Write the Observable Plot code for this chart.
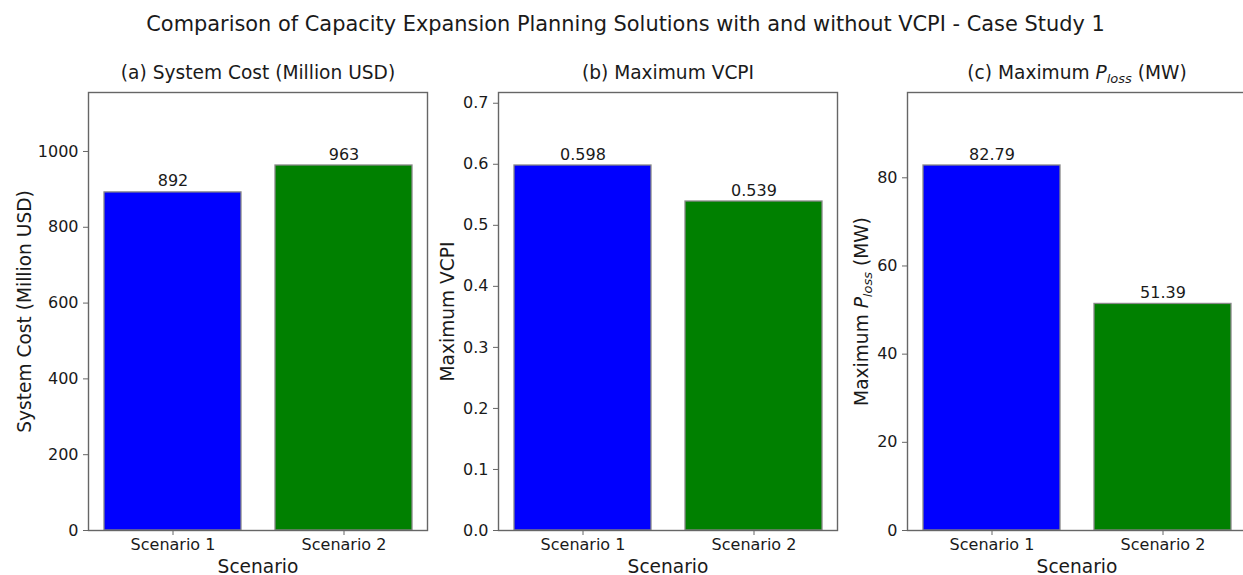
<!DOCTYPE html>
<html>
<head>
<meta charset="utf-8">
<script src="https://cdn.jsdelivr.net/npm/d3@7"></script>
<script src="https://cdn.jsdelivr.net/npm/@observablehq/plot@0.6"></script>
<style>
  html, body { margin: 0; padding: 0; background: #fff; overflow: hidden; width: 1243px; height: 575px; }
  #title { font-family: "DejaVu Sans", sans-serif; font-size: 20.9px; line-height: 22px; height: 27px; padding-top: 13px; text-align: center; color: #1a1a1a; width: 1243px; padding-left: 4px; box-sizing: content-box; }
  #row { display: flex; flex-wrap: nowrap; width: 1300px; }
  #row svg { flex: none; }
</style>
</head>
<body>
<div id="title">Comparison of Capacity Expansion Planning Solutions with and without VCPI - Case Study 1</div>
<div id="row"></div>
<script>
// ---- data ----
const scenarios = ["Scenario 1", "Scenario 2"];
const barColors = ["blue", "green"];
const systemCost = [892, 963];
const maxVCPI = [0.598, 0.539];
const maxPloss = [82.79, 51.39];
const costTicks = [0, 200, 400, 600, 800, 1000];
const vcpiTicks = [0, 0.1, 0.2, 0.3, 0.4, 0.5, 0.6, 0.7];
const plossTicks = [0, 20, 40, 60, 80];
const panelTitles = ["(a) System Cost (Million USD)", "(b) Maximum VCPI", "(c) Maximum P_loss (MW)"];
const yLabels = ["System Cost (Million USD)", "Maximum VCPI", "Maximum P_loss (MW)"];
const xLabel = "Scenario";

const FONT = "DejaVu Sans, sans-serif";
const TXT = "#1a1a1a";
const AX = "#666";
const TICKFS = 16;
const LABFS = 18.6;

function panel({values, ticks, tickFormat, labelFormat, title, ylabel, width, marginLeft, marginRight, ylabelDx}) {
  const data = scenarios.map((s, i) => ({scenario: s, value: values[i], color: barColors[i]}));
  const ymax = d3.max(values) * 1.2;
  return Plot.plot({
    width, height: 535,
    marginLeft, marginRight, marginTop: 52, marginBottom: 45,
    style: {fontFamily: FONT, color: TXT, background: "#fff", overflow: "visible"},
    x: {type: "band", domain: scenarios, paddingInner: 0.2, paddingOuter: 0.09, align: 0.5},
    y: {domain: [0, ymax], nice: false},
    marks: [
      Plot.barY(data, {x: "scenario", y: "value", fill: "color", stroke: "#888", strokeWidth: 1.3}),
      Plot.text(data, {x: "scenario", y: "value", text: d => labelFormat(d.value), lineAnchor: "bottom", dy: -6, fontSize: TICKFS, fill: TXT}),
      Plot.frame({stroke: AX, strokeWidth: 1.4}),
      Plot.axisX({tickSize: 5, tickPadding: 3, fontSize: TICKFS, stroke: AX, color: TXT, label: null}),
      Plot.axisY({ticks, tickFormat, tickSize: 5, tickPadding: 5, fontSize: TICKFS, stroke: AX, color: TXT, label: null}),
      Plot.text([title], {frameAnchor: "top", lineAnchor: "bottom", textAnchor: "middle", dy: -14, fontSize: LABFS, fill: TXT}),
      Plot.text([xLabel], {frameAnchor: "bottom", lineAnchor: "bottom", textAnchor: "middle", dy: 42, fontSize: LABFS, fill: TXT}),
      Plot.text([ylabel], {frameAnchor: "left", rotate: -90, lineAnchor: "bottom", textAnchor: "middle", dx: ylabelDx, fontSize: LABFS, fill: TXT})
    ]
  });
}

function richify(svg) {
  d3.select(svg).selectAll("text").each(function() {
    const t = this.textContent;
    if (this.childElementCount === 0 && t.includes("P_loss")) {
      const [pre, post] = t.split("P_loss");
      const sel = d3.select(this);
      sel.text(null);
      sel.append("tspan").text(pre);
      sel.append("tspan").attr("font-style", "italic").text("P");
      sel.append("tspan").attr("font-style", "italic").attr("font-size", "70%").attr("dy", "4").text("loss");
      sel.append("tspan").attr("dy", "-4").text(post);
    }
  });
  return svg;
}

const row = document.getElementById("row");
row.append(richify(panel({values: systemCost, ticks: costTicks, tickFormat: d3.format("d"), labelFormat: d3.format("d"),
  title: panelTitles[0], ylabel: yLabels[0], width: 440, marginLeft: 88, marginRight: 13, ylabelDx: -58})));
row.append(richify(panel({values: maxVCPI, ticks: vcpiTicks, tickFormat: d3.format(".1f"), labelFormat: d3.format(".3f"),
  title: panelTitles[1], ylabel: yLabels[1], width: 410, marginLeft: 58, marginRight: 13, ylabelDx: -45})));
row.append(richify(panel({values: maxPloss, ticks: plossTicks, tickFormat: d3.format("d"), labelFormat: d3.format(".2f"),
  title: panelTitles[2], ylabel: yLabels[2], width: 406, marginLeft: 57, marginRight: 10, ylabelDx: -40})));
</script>
</body>
</html>
